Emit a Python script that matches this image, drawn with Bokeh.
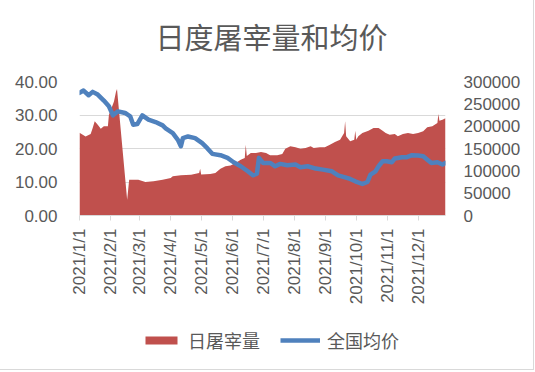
import math
import pandas as pd
from bokeh.plotting import figure
from bokeh.layouts import column
from bokeh.models import (Range1d, LinearAxis, FixedTicker, NumeralTickFormatter,
                          Legend, LegendItem, Label)
from bokeh.embed import file_html
from bokeh.resources import INLINE

title_text = "日度屠宰量和均价"
vol_name = "日屠宰量"
price_name = "全国均价"
month_labels = ["2021/1/1", "2021/2/1", "2021/3/1", "2021/4/1", "2021/5/1", "2021/6/1",
                "2021/7/1", "2021/8/1", "2021/9/1", "2021/10/1", "2021/11/1", "2021/12/1"]
left_ticks = [0, 10, 20, 30, 40]
right_ticks = [0, 50000, 100000, 150000, 200000, 250000, 300000]

vol_dates = ["2021-01-01", "2021-01-07", "2021-01-12", "2021-01-14", "2021-01-16", "2021-01-19",
             "2021-01-22", "2021-01-25", "2021-01-29", "2021-01-30", "2021-02-04", "2021-02-06",
             "2021-02-07", "2021-02-17", "2021-02-19", "2021-02-23", "2021-02-28", "2021-03-07",
             "2021-03-15", "2021-03-24", "2021-04-01", "2021-04-03", "2021-04-11", "2021-04-21",
             "2021-04-29", "2021-04-30", "2021-05-01", "2021-05-10", "2021-05-15", "2021-05-20",
             "2021-05-25", "2021-05-30", "2021-06-04", "2021-06-09", "2021-06-13", "2021-06-14",
             "2021-06-15", "2021-06-19", "2021-06-24", "2021-06-29", "2021-07-04", "2021-07-08",
             "2021-07-15", "2021-07-20", "2021-07-23", "2021-07-28", "2021-08-02", "2021-08-07",
             "2021-08-12", "2021-08-17", "2021-08-20", "2021-08-26", "2021-08-31", "2021-09-05",
             "2021-09-10", "2021-09-15", "2021-09-19", "2021-09-20", "2021-09-21", "2021-09-25",
             "2021-09-29", "2021-09-30", "2021-10-01", "2021-10-03", "2021-10-07", "2021-10-13",
             "2021-10-18", "2021-10-23", "2021-10-27", "2021-10-30", "2021-11-03", "2021-11-08",
             "2021-11-11", "2021-11-16", "2021-11-21", "2021-11-26", "2021-12-01", "2021-12-06",
             "2021-12-10", "2021-12-15", "2021-12-20", "2021-12-21", "2021-12-22", "2021-12-25",
             "2021-12-28"]
vol_values = [185000, 177000, 182500, 196000, 211000, 203000,
              194000, 199700, 199700, 225000, 255000, 277000,
              283000, 35000, 80000, 80200, 80000, 75000,
              76600, 80000, 84000, 87800, 90000, 91400,
              95000, 104800, 92000, 93000, 95000, 104800,
              110000, 112000, 117500, 125000, 129000, 158500,
              133000, 140000, 140000, 142000, 140000, 134800,
              134800, 137700, 149600, 155000, 152700, 149600,
              151100, 155000, 151100, 152700, 152700, 158500,
              164500, 169700, 184700, 211000, 177300, 166000,
              169700, 190000, 169700, 177300, 184700, 190000,
              196000, 196000, 190000, 184700, 181000, 182500,
              177300, 182500, 184700, 182500, 184700, 188500,
              197500, 199700, 207000, 227000, 212000, 214500,
              218000]

price_dates = ["2021-01-01", "2021-01-05", "2021-01-10", "2021-01-14", "2021-01-19", "2021-01-25",
               "2021-01-30", "2021-02-03", "2021-02-08", "2021-02-15", "2021-02-20", "2021-02-23",
               "2021-02-27", "2021-03-04", "2021-03-10", "2021-03-17", "2021-03-24", "2021-03-27",
               "2021-04-03", "2021-04-08", "2021-04-11", "2021-04-13", "2021-04-18", "2021-04-25",
               "2021-05-02", "2021-05-07", "2021-05-12", "2021-05-20", "2021-05-27", "2021-06-02",
               "2021-06-09", "2021-06-16", "2021-06-21", "2021-06-25", "2021-06-27", "2021-07-01",
               "2021-07-08", "2021-07-13", "2021-07-18", "2021-07-25", "2021-08-02", "2021-08-07",
               "2021-08-14", "2021-08-22", "2021-08-29", "2021-09-07", "2021-09-13", "2021-09-20",
               "2021-09-25", "2021-09-30", "2021-10-07", "2021-10-12", "2021-10-15", "2021-10-20",
               "2021-10-23", "2021-10-27", "2021-10-31", "2021-11-05", "2021-11-08", "2021-11-15",
               "2021-11-20", "2021-11-25", "2021-12-01", "2021-12-06", "2021-12-11", "2021-12-14",
               "2021-12-20", "2021-12-25", "2021-12-28"]
price_values = [36.6, 37.3, 35.9, 36.9, 36.1, 34.3,
                32.6, 29.9, 31.1, 30.6, 29.6, 27.1,
                27.3, 29.9, 28.6, 27.9, 26.9, 26.0,
                24.6, 22.6, 20.7, 23.1, 23.6, 23.1,
                21.6, 20.1, 18.4, 18.0, 17.2, 15.9,
                14.7, 13.2, 12.0, 12.5, 17.2, 15.7,
                15.7, 14.7, 15.4, 15.0, 15.2, 14.4,
                14.7, 14.0, 13.7, 13.2, 12.0, 11.4,
                10.9, 10.2, 9.4, 10.0, 12.2, 13.2,
                14.7, 16.2, 16.2, 15.9, 17.0, 17.4,
                17.4, 18.0, 17.9, 17.7, 16.4, 15.7,
                15.9, 15.2, 15.7]

start = pd.Timestamp("2021-01-01")


def day_index(dates):
    return [(pd.Timestamp(d) - start).days for d in dates]


vol_x = day_index(vol_dates)
price_x = day_index(price_dates)
tick_x = day_index([m.replace("/", "-") for m in month_labels])
last_day = max(max(vol_x), max(price_x))

TEXT = "#595959"
GRID = "#d9d9d9"
RED = "#c0504d"
BLUE = "#4f81bd"
FONT = "Liberation Sans"
CJK = "Noto Sans CJK SC"


def strip(height):
    f = figure(width=533, height=height, x_range=Range1d(0, 1), y_range=Range1d(0, 1),
               output_backend="svg", toolbar_location=None, min_border=0,
               x_axis_type=None, y_axis_type=None, outline_line_color=None,
               background_fill_color="white", border_fill_color="white")
    f.grid.visible = False
    return f


# title strip
tf = strip(60)
tf.add_layout(Label(x=76, y=24.5, x_units="screen", y_units="screen", text=title_text,
                    text_align="left", text_baseline="middle", text_font=CJK,
                    text_font_size="29px", text_color=TEXT))

# main chart
p = figure(width=533, height=258, x_range=Range1d(0, last_day), y_range=Range1d(0, 40),
           output_backend="svg", toolbar_location=None,
           min_border_left=79, min_border_right=88, min_border_top=21, min_border_bottom=103,
           outline_line_color=None, background_fill_color="white", border_fill_color="white")
p.extra_y_ranges = {"vol": Range1d(0, 300000)}

area = p.varea(x=vol_x, y1=[0] * len(vol_x), y2=vol_values, y_range_name="vol",
               fill_color=RED)
line = p.line(x=price_x, y=price_values, line_color=BLUE, line_width=4.5,
              line_join="round", line_cap="round")

xa = p.xaxis[0]
xa.ticker = FixedTicker(ticks=tick_x)
xa.major_label_overrides = {t: lab for t, lab in zip(tick_x, month_labels)}
xa.major_label_orientation = math.pi / 2
xa.axis_line_color = GRID
xa.major_tick_line_color = GRID
xa.major_tick_out = 5
xa.major_tick_in = 0
xa.minor_tick_line_color = None
xa.major_label_standoff = 8
xa.major_label_text_font = FONT
xa.major_label_text_font_size = "17px"
xa.major_label_text_color = TEXT

ya = p.yaxis[0]
ya.ticker = FixedTicker(ticks=left_ticks)
ya.formatter = NumeralTickFormatter(format="0.00")
ya.axis_line_color = None
ya.major_tick_line_color = None
ya.minor_tick_line_color = None
ya.major_tick_out = 0
ya.major_label_standoff = 22
ya.major_label_text_font = FONT
ya.major_label_text_font_size = "17px"
ya.major_label_text_color = TEXT

ra = LinearAxis(y_range_name="vol", ticker=FixedTicker(ticks=right_ticks),
                formatter=NumeralTickFormatter(format="0"))
ra.axis_line_color = None
ra.major_tick_line_color = None
ra.minor_tick_line_color = None
ra.major_tick_out = 0
ra.major_label_standoff = 18
ra.major_label_text_font = FONT
ra.major_label_text_font_size = "17px"
ra.major_label_text_color = TEXT
p.add_layout(ra, "right")

p.xgrid.visible = False
p.ygrid.grid_line_color = GRID
p.ygrid.grid_line_width = 1.2

# legend strip (legend keys only; drawn outside the visible range)
lg = strip(51)
key_area = lg.varea(x=[2, 3], y1=[2, 2], y2=[3, 3], fill_color=RED)
key_line = lg.line(x=[2, 3], y=[2, 2], line_color=BLUE, line_width=4.5)
legend = Legend(items=[LegendItem(label=vol_name, renderers=[key_area]),
                       LegendItem(label=price_name, renderers=[key_line])],
                location=(62, 16), orientation="horizontal", glyph_width=40, glyph_height=10,
                label_standoff=7, spacing=20, padding=0, margin=0, border_line_color=None,
                background_fill_alpha=0, label_text_font=CJK, label_text_font_size="18px",
                label_text_color=TEXT)
lg.add_layout(legend)

layout = column(tf, p, lg, spacing=0)
layout.styles = {"outline": "1px solid #d9d9d9"}

open("out.html", "w").write(file_html(layout, INLINE))
